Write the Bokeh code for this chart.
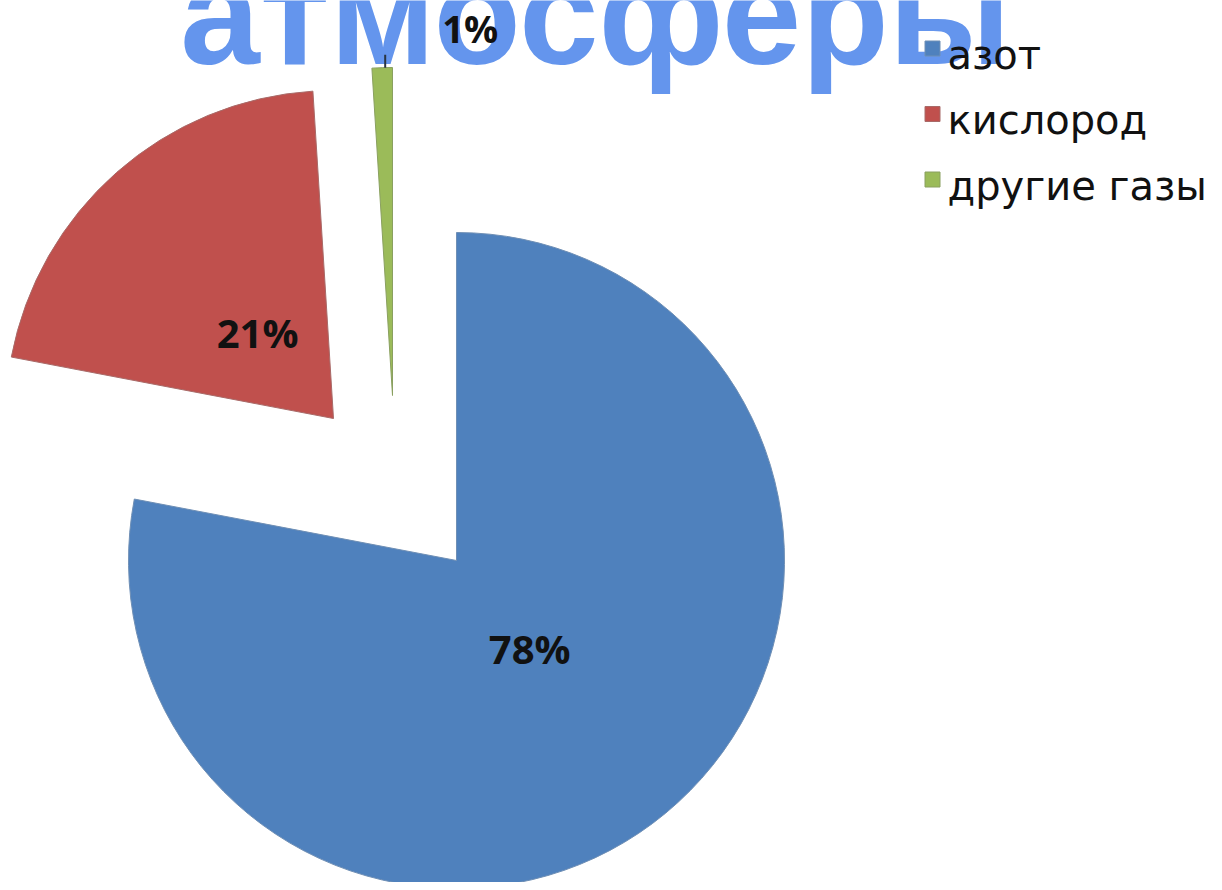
import math
from bokeh.plotting import figure
from bokeh.models import Range1d, ColumnDataSource
from bokeh.core.properties import value
from bokeh.embed import file_html
from bokeh.resources import INLINE

# ---- data ----
title_text = "атмосферы"
categories = ["азот", "кислород", "другие газы"]
percents = [78, 21, 1]

# ---- styles ----
colors = ["#4F81BD", "#C0504D", "#9BBB59"]
edge_colors = ["#6f8fb5", "#a86a68", "#8aa060"]
W, H = 1214, 882
CENTER = (456, H - 560)        # pie centre (data units == px)
RADIUS = 328
EXPLODE = [(0, 0), (-123, 142), (-64, 165)]   # per-slice offsets
LABEL_FRAC = 0.35

p = figure(width=W, height=H, output_backend="svg", toolbar_location=None,
           x_range=Range1d(0, W), y_range=Range1d(0, H),
           min_border=0, outline_line_color=None)
p.axis.visible = False
p.grid.visible = False
p.background_fill_color = "white"
p.border_fill_color = "white"

# title (cropped at top, drawn behind the pie)
p.text(x=[595], y=[H - 14], text=[title_text],
       text_font=value("Liberation Sans"), text_font_style="bold",
       text_font_size="143px", text_color="#6495ED",
       text_align="center", text_baseline="alphabetic")

total = sum(percents)
start = 0.0  # clockwise degrees from 12 o'clock
wedges = dict(x=[], y=[], sa=[], ea=[], color=[], line=[])
labels = dict(x=[], y=[], t=[])
green_tip = None
for i, v in enumerate(percents):
    span = 360.0 * v / total
    end = start + span
    cx = CENTER[0] + EXPLODE[i][0]
    cy = CENTER[1] + EXPLODE[i][1]
    wedges["x"].append(cx); wedges["y"].append(cy)
    wedges["sa"].append(math.radians(90 - start))
    wedges["ea"].append(math.radians(90 - end))
    wedges["color"].append(colors[i]); wedges["line"].append(edge_colors[i])
    mid = math.radians(start + span / 2)
    if v >= 5:
        labels["x"].append(cx + LABEL_FRAC * RADIUS * math.sin(mid))
        labels["y"].append(cy + LABEL_FRAC * RADIUS * math.cos(mid))
        labels["t"].append(f"{v}%")
    else:
        tipx = cx + RADIUS * math.sin(mid)
        tipy = cy + RADIUS * math.cos(mid)
        green_tip = (tipx, tipy, f"{v}%")
    start = end

src = ColumnDataSource(wedges)
p.wedge(x="x", y="y", radius=RADIUS, start_angle="sa", end_angle="ea",
        direction="clock", fill_color="color", line_color="line",
        line_width=1, source=src)

p.text(x="x", y="y", text="t", source=ColumnDataSource(labels),
       text_font=value("Open Sans"), text_font_style="bold",
       text_font_size="40px", text_color="#111111",
       text_align="center", text_baseline="middle")

if green_tip:
    tx, ty, tt = green_tip
    p.segment(x0=[tx + 3], y0=[ty], x1=[tx + 3], y1=[ty + 13],
              line_color="#2a3440", line_width=2)
    p.text(x=[tx + 88], y=[ty + 40], text=[tt],
           text_font=value("Open Sans"), text_font_style="bold",
           text_font_size="38px", text_color="#111111",
           text_align="center", text_baseline="middle")

# legend
leg_x, leg_y0, leg_dy = 932, H - 48, 65.5
ly = [leg_y0 - i * leg_dy for i in range(len(categories))]
p.rect(x=[leg_x] * len(categories), y=ly, width=15, height=15,
       fill_color=colors, line_color=edge_colors, line_width=1)
p.text(x=[leg_x + 15] * len(categories), y=[y - 6 for y in ly], text=categories,
       text_font=value("DejaVu Sans"), text_font_size="40px",
       text_color="#111111", text_align="left", text_baseline="alphabetic")

open("out.html", "w").write(file_html(p, INLINE))
